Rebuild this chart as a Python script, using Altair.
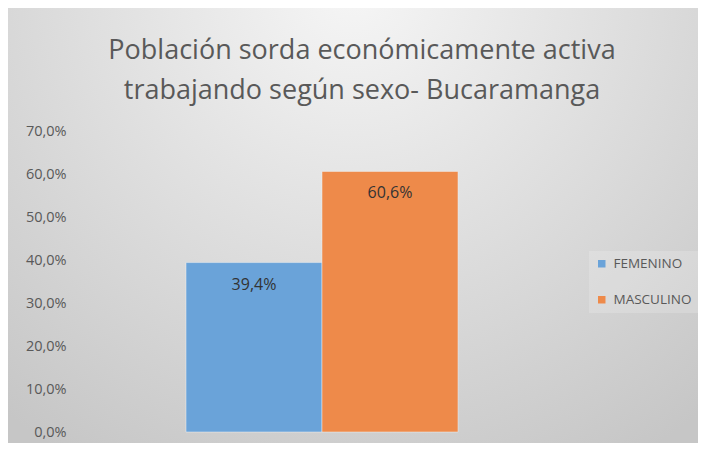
import altair as alt
import pandas as pd

sexo = ["FEMENINO", "MASCULINO"]
valores = [0.394, 0.606]
etiquetas = ["39,4%", "60,6%"]
colores = ["#6aa3d9", "#ee8a4a"]
y_ticks = [0, 0.1, 0.2, 0.3, 0.4, 0.5, 0.6, 0.7]

df = pd.DataFrame({"sexo": sexo, "valor": valores, "etiqueta": etiquetas})

W, H = 504, 301
PL, PT, PR, PB = 62, 123, 124, 11

bg = alt.Chart(pd.DataFrame({"a": [0]})).mark_rect(
    color=alt.RadialGradient(
        gradient="radial",
        x1=0.5, y1=0.15, r1=0.0,
        x2=0.5, y2=0.15, r2=0.8,
        stops=[alt.GradientStop(offset=0, color="#f6f6f6"),
               alt.GradientStop(offset=1, color="#c6c6c6")],
    )
).encode(
    x=alt.value(-PL), x2=alt.value(W + PR),
    y=alt.value(-PT), y2=alt.value(H + PB),
)

base = alt.Chart(df)

bars = base.mark_bar(stroke="#f0f0f0", strokeWidth=0.5).encode(
    x=alt.X("sexo:N", sort=sexo, axis=None,
            scale=alt.Scale(paddingInner=0, paddingOuter=0.853)),
    y=alt.Y("valor:Q",
            scale=alt.Scale(domain=[0, 0.7], nice=False),
            axis=alt.Axis(values=y_ticks, grid=False, domain=False, ticks=False,
                          labelExpr="replace(format(datum.value, '.1%'), '.', ',')",
                          labelFont="Open Sans", labelFontSize=14.5,
                          labelColor="#595959", labelPadding=4, title=None,
                          zindex=2)),
    color=alt.Color("sexo:N", sort=sexo,
                    scale=alt.Scale(domain=sexo, range=colores),
                    legend=alt.Legend(title=None, orient="none",
                                      legendX=W + 15, legendY=120,
                                      symbolType="square", symbolSize=56,
                                      symbolStrokeWidth=0, labelOffset=5,
                                      labelFont="Open Sans", labelFontSize=13.5,
                                      labelColor="#595959", rowPadding=21,
                                      fillColor="rgba(255,255,255,0.18)",
                                      padding=6, zindex=2)),
)

labels = base.mark_text(font="Open Sans", fontSize=16, color="#333333",
                        baseline="middle", dy=22).encode(
    x=alt.X("sexo:N", sort=sexo),
    y=alt.Y("valor:Q"),
    text="etiqueta:N",
)

chart = alt.layer(bg, bars, labels).properties(
    width=W, height=H,
    autosize=alt.AutoSizeParams(type="none"),
    padding={"left": PL, "top": PT, "right": PR, "bottom": PB},
    title=alt.TitleParams(
        text=["Población sorda económicamente activa",
              "trabajando según sexo- Bucaramanga"],
        font="Open Sans", fontSize=27, fontWeight="normal", color="#595959",
        anchor="middle", dx=40, offset=0, dy=97, lineHeight=40, zindex=2,
    ),
).configure_view(stroke=None).configure(background="#d4d4d4")

chart.save("out.html", embed_options={"renderer": "svg", "actions": False})
